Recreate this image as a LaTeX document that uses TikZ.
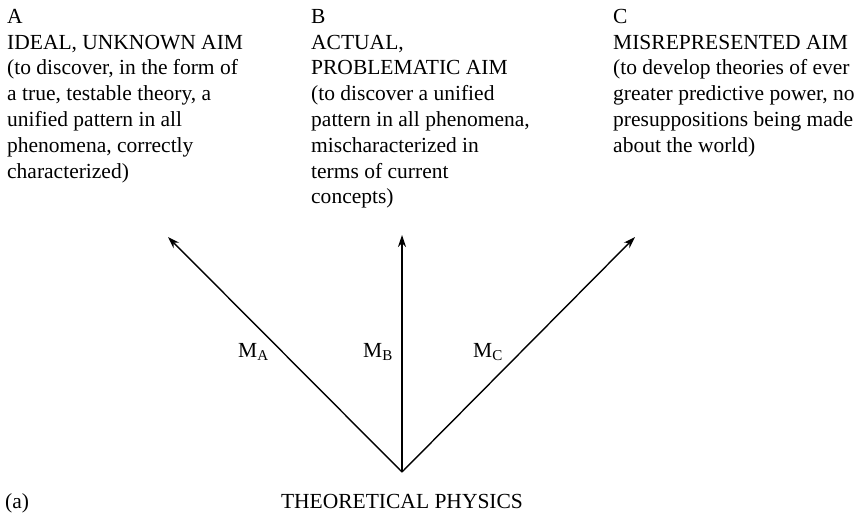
\documentclass[tikz,border=0pt]{standalone}
\usepackage{fontspec}
\setmainfont{Liberation Serif}
\usetikzlibrary{arrows.meta}
\begin{document}
\begin{tikzpicture}[x=1pt,y=-1pt,
  aimtext/.style={anchor=north west, inner sep=0pt, align=left, font=\fontsize{21.5}{25.8}\selectfont},
  lab/.style={inner sep=0pt, font=\fontsize{21.5}{25.8}\selectfont},
  arr/.style={line width=1.4pt, -{Stealth[length=12pt,width=8pt]}}]
\useasboundingbox (0,0) rectangle (867,514);
\node[aimtext] (A) at (7,5) {\strut A\\IDEAL, UNKNOWN AIM\\(to discover, in the form of\\a true, testable theory, a\\unified pattern in all\\phenomena, correctly\\characterized)};
\node[aimtext] (B) at (311,5) {\strut B\\ACTUAL,\\PROBLEMATIC AIM\\(to discover a unified\\pattern in all phenomena,\\mischaracterized in\\terms of current\\concepts)};
\node[aimtext] (C) at (613,5) {\strut C\\MISREPRESENTED AIM\\(to develop theories of ever\\greater predictive power, no\\presuppositions being made\\about the world)};
\coordinate (O) at (402,472);
\coordinate (tA) at (168,237);
\coordinate (tB) at (402,235);
\coordinate (tC) at (635,237);
\draw[arr] (O) -- (tA);
\draw[arr] (O) -- (tB);
\draw[arr] (O) -- (tC);
\node[lab, anchor=base west] (mA) at (238,357) {M\textsubscript{A}};
\node[lab, anchor=base west] (mB) at (363,357) {M\textsubscript{B}};
\node[lab, anchor=base west] (mC) at (473,357) {M\textsubscript{C}};
\node[lab, anchor=base west] (pa) at (5,508) {(a)};
\node[lab, anchor=base] (tp) at (402,508) {THEORETICAL PHYSICS};
\end{tikzpicture}
\end{document}
